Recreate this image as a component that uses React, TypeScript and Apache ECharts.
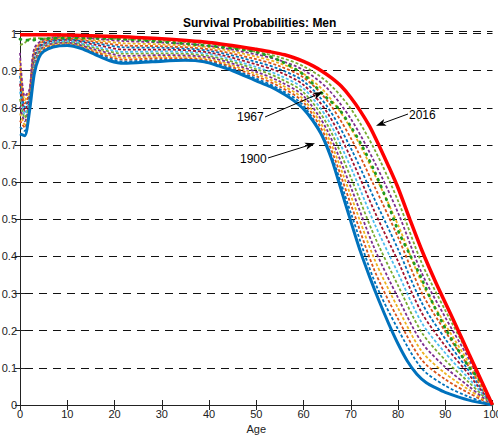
import React, { useEffect, useRef } from "react";
import * as echarts from "echarts";

// ---------- data ----------
// 1900 (blue, solid)
const ages1900 = [0, 1, 2, 3, 4, 5, 7, 10, 13, 16, 19, 22, 28, 35, 39, 42, 45, 50, 53, 56, 58, 60, 62, 64, 66, 68, 70, 72, 74, 76, 78, 80, 82, 84, 86, 88, 90, 95, 100];
const surv1900 = [0.73, 0.725, 0.79, 0.89, 0.935, 0.952, 0.964, 0.968, 0.96, 0.943, 0.927, 0.92, 0.924, 0.928, 0.924, 0.913, 0.9, 0.873, 0.857, 0.836, 0.819, 0.797, 0.765, 0.723, 0.66, 0.578, 0.495, 0.415, 0.345, 0.28, 0.22, 0.165, 0.118, 0.083, 0.06, 0.046, 0.034, 0.013, 0];

// 2016 (red, solid)
const ages2016 = [0, 10, 20, 30, 40, 50, 53, 56, 58, 60, 62, 64, 66, 68, 70, 72, 74, 76, 78, 80, 82.5, 85, 88, 91.5, 95, 100];
const surv2016 = [0.997, 0.996, 0.992, 0.986, 0.976, 0.958, 0.951, 0.943, 0.935, 0.925, 0.913, 0.898, 0.88, 0.858, 0.828, 0.792, 0.75, 0.698, 0.643, 0.585, 0.5, 0.418, 0.33, 0.235, 0.138, 0];

// 1967 (green, dotted)
const ages1967 = [0, 2, 5, 10, 20, 30, 40, 45, 50, 55, 60, 62.5, 65, 67.5, 70, 72.5, 75, 77.5, 80, 82.5, 85, 87.5, 90, 92.5, 95, 97.5, 100];
const surv1967 = [0.985, 0.982, 0.986, 0.988, 0.986, 0.978, 0.967, 0.96, 0.95, 0.927, 0.89, 0.858, 0.826, 0.797, 0.75, 0.695, 0.63, 0.555, 0.47, 0.405, 0.34, 0.27, 0.207, 0.153, 0.103, 0.063, 0];

// intermediate cohorts (dashed)
const agesMid = [0, 1, 2, 3, 5, 10, 16, 22, 30, 40, 50, 55, 60, 65, 70, 75, 80, 85, 90, 95, 100];
const cohortA = [0.748, 0.738, 0.804, 0.905, 0.957, 0.970, 0.947, 0.925, 0.929, 0.924, 0.879, 0.850, 0.806, 0.700, 0.518, 0.334, 0.204, 0.099, 0.052, 0.022, 0];
const cohortB = [0.766, 0.747, 0.808, 0.910, 0.960, 0.972, 0.950, 0.930, 0.934, 0.928, 0.885, 0.857, 0.815, 0.713, 0.541, 0.363, 0.232, 0.122, 0.069, 0.032, 0];
const cohortC = [0.785, 0.755, 0.813, 0.915, 0.962, 0.974, 0.954, 0.935, 0.938, 0.932, 0.891, 0.864, 0.823, 0.727, 0.564, 0.393, 0.261, 0.145, 0.085, 0.041, 0];
const cohortD = [0.803, 0.764, 0.817, 0.920, 0.965, 0.976, 0.957, 0.940, 0.942, 0.936, 0.897, 0.871, 0.832, 0.740, 0.587, 0.422, 0.289, 0.169, 0.102, 0.050, 0];
const cohortE = [0.824, 0.773, 0.822, 0.925, 0.968, 0.978, 0.961, 0.946, 0.947, 0.940, 0.904, 0.879, 0.842, 0.756, 0.613, 0.455, 0.322, 0.196, 0.121, 0.061, 0];
const cohortF = [0.844, 0.783, 0.826, 0.931, 0.970, 0.980, 0.965, 0.951, 0.952, 0.945, 0.910, 0.887, 0.852, 0.772, 0.640, 0.489, 0.355, 0.222, 0.140, 0.071, 0];
const cohortG = [0.865, 0.792, 0.831, 0.936, 0.973, 0.983, 0.970, 0.957, 0.957, 0.949, 0.917, 0.896, 0.862, 0.788, 0.666, 0.522, 0.387, 0.249, 0.159, 0.082, 0];
const cohortH = [0.886, 0.802, 0.836, 0.942, 0.976, 0.985, 0.974, 0.963, 0.962, 0.954, 0.924, 0.904, 0.872, 0.804, 0.692, 0.555, 0.420, 0.276, 0.178, 0.092, 0];
const cohortI = [0.907, 0.812, 0.841, 0.948, 0.979, 0.987, 0.978, 0.968, 0.966, 0.958, 0.931, 0.912, 0.882, 0.820, 0.719, 0.589, 0.452, 0.303, 0.198, 0.103, 0];
const cohortJ = [0.928, 0.821, 0.846, 0.953, 0.982, 0.989, 0.982, 0.974, 0.971, 0.963, 0.938, 0.920, 0.892, 0.836, 0.745, 0.622, 0.485, 0.330, 0.217, 0.113, 0];
const cohortK = [0.948, 0.831, 0.850, 0.959, 0.984, 0.992, 0.986, 0.980, 0.976, 0.967, 0.944, 0.928, 0.902, 0.853, 0.771, 0.655, 0.518, 0.356, 0.236, 0.124, 0];
const cohortL = [0.969, 0.975, 0.985, 0.988, 0.987, 0.994, 0.990, 0.985, 0.981, 0.972, 0.951, 0.936, 0.912, 0.870, 0.798, 0.689, 0.550, 0.383, 0.255, 0.134, 0];
const midCohorts = [cohortA, cohortB, cohortC, cohortD, cohortE, cohortF, cohortG, cohortH, cohortI, cohortJ, cohortK, cohortL];

const palette = ["#0072BD", "#D95319", "#EDB120", "#7E2F8E", "#77AC30", "#4DBEEE", "#A2142F"];

const FONT = "Liberation Sans, Arial, Helvetica, sans-serif";

function pairs(xs: number[], ys: number[]) {
  return xs.map((x, i) => [x, ys[i]]);
}

function arrow(sx: number, sy: number, tx: number, ty: number) {
  const dx = tx - sx;
  const dy = ty - sy;
  const len = Math.sqrt(dx * dx + dy * dy);
  const ux = dx / len;
  const uy = dy / len;
  const hl = 10;
  const hw = 3.6;
  const bx = tx - ux * hl;
  const by = ty - uy * hl;
  return [
    { type: "line", shape: { x1: sx, y1: sy, x2: bx + ux * 2, y2: by + uy * 2 }, style: { stroke: "#000", lineWidth: 1 }, z: 100 },
    {
      type: "polygon",
      shape: { points: [[tx, ty], [bx - uy * hw, by + ux * hw], [bx + ux * 2.5, by + uy * 2.5], [bx + uy * hw, by - ux * hw]] },
      style: { fill: "#000" },
      z: 100,
    },
  ];
}

function label(text: string, x: number, y: number) {
  return {
    type: "text",
    x,
    y,
    z: 100,
    style: { text, fontSize: 12, fontFamily: FONT, fill: "#000", align: "left", verticalAlign: "middle" },
  };
}

export default function App() {
  const ref = useRef<HTMLDivElement>(null);
  useEffect(() => {
    if (!ref.current) return;
    const chart = echarts.init(ref.current, undefined, { renderer: "svg" });

    const series: any[] = [];
    midCohorts.forEach((vals, i) => {
      series.push({
        type: "line",
        data: pairs(agesMid, vals),
        showSymbol: false,
        smooth: 0.3,
        lineStyle: { color: palette[i % palette.length], width: 1.8, type: [3, 2] },
        z: 2,
      });
    });
    series.push({
      type: "line",
      data: pairs(ages1967, surv1967),
      showSymbol: false,
      smooth: 0.3,
      lineStyle: { color: "#1f9a1f", width: 2.8, type: [1, 6], cap: "round" },
      z: 3,
    });
    series.push({
      type: "line",
      data: pairs(ages1900, surv1900),
      showSymbol: false,
      smooth: 0.25,
      lineStyle: { color: "#0072BD", width: 3 },
      z: 4,
    });
    series.push({
      type: "line",
      data: pairs(ages2016, surv2016),
      showSymbol: false,
      smooth: 0.25,
      lineStyle: { color: "#FF0000", width: 3.5 },
      z: 5,
    });

    const axisLine = { show: true, lineStyle: { color: "#222", width: 1 } };
    const tick = { show: true, inside: true, length: 5, lineStyle: { color: "#222" } };
    const yFmt = (v: number) => (Math.abs(v * 10 - Math.round(v * 10)) < 1e-6 ? String(Math.round(v * 10) / 10) : "");

    chart.setOption({
      animation: false,
      backgroundColor: "#fff",
      title: {
        text: "Survival Probabilities: Men",
        left: 178,
        top: 12,
        textStyle: { fontSize: 12, fontWeight: "bold", fontFamily: FONT, color: "#000" },
      },
      grid: { left: 20, right: 5.5, top: 31, bottom: 31, containLabel: false, outerBoundsMode: "none" },
      xAxis: [
        {
          type: "value",
          min: 0,
          max: 100,
          interval: 10,
          name: "Age",
          nameLocation: "middle",
          nameGap: 14,
          nameTextStyle: { fontSize: 11, fontFamily: FONT, color: "#222" },
          axisLine,
          axisTick: tick,
          axisLabel: { fontSize: 11, fontFamily: FONT, color: "#222", margin: 3 },
          splitLine: { show: false },
        },
        {
          type: "value",
          position: "top",
          min: 0,
          max: 100,
          interval: 10,
          axisLine,
          axisTick: tick,
          axisLabel: { show: false },
          splitLine: { show: false },
        },
      ],
      yAxis: [
        {
          type: "value",
          min: 0,
          max: 1.007,
          interval: 0.1,
          axisLine,
          axisTick: tick,
          axisLabel: { fontSize: 11, fontFamily: FONT, color: "#222", margin: 3, formatter: yFmt },
          splitLine: { show: true, lineStyle: { color: "#111", width: 1, type: [8, 6], dashOffset: 9 } },
        },
        {
          type: "value",
          position: "right",
          min: 0,
          max: 1.007,
          interval: 0.1,
          axisLine,
          axisTick: tick,
          axisLabel: { show: false },
          splitLine: { show: false },
        },
      ],
      series,
      graphic: [
        label("1967", 237, 117),
        ...arrow(265, 117, 323, 92),
        label("2016", 409, 115),
        ...arrow(408, 114, 376, 125.7),
        label("1900", 240, 159),
        ...arrow(268, 158, 315, 143.3),
      ],
    });
    return () => chart.dispose();
  }, []);
  return (
    <div
      ref={ref}
      style={{ position: "fixed", left: 0, top: 0, width: 498, height: 436, background: "#fff" }}
    />
  );
}
